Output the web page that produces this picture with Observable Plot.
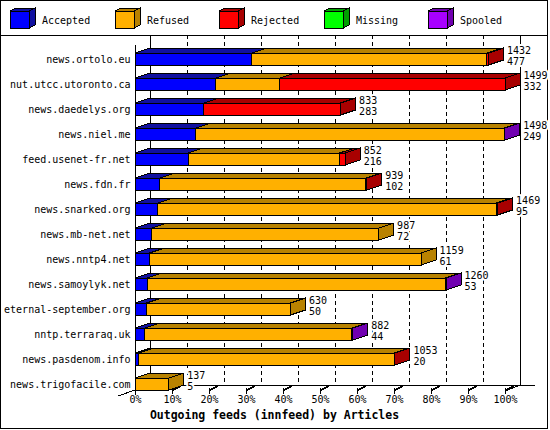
<!DOCTYPE html>
<html><head><meta charset="utf-8">
<script src="https://cdn.jsdelivr.net/npm/d3@7"></script>
<script src="https://cdn.jsdelivr.net/npm/@observablehq/plot@0.6"></script>
<style>body{margin:0;background:#fff}</style>
</head><body><div id="chart"></div>
<script>
const hosts = ["news.ortolo.eu","nut.utcc.utoronto.ca","news.daedelys.org","news.niel.me","feed.usenet-fr.net","news.fdn.fr","news.snarked.org","news.mb-net.net","news.nntp4.net","news.samoylyk.net","eternal-september.org","nntp.terraraq.uk","news.pasdenom.info","news.trigofacile.com"];
const totals = [1432,1499,833,1498,852,939,1469,987,1159,1260,630,882,1053,137];
const seconds = [477,332,283,249,216,102,95,72,61,53,50,44,20,5];
const accepted = [474,328,279,247,215,101,92,68,59,50,47,40,14,0];
const refused  = [952,259,0,1248,614,834,1373,919,1100,1207,583,839,1036,137];
const rejected = [6,912,554,0,23,4,4,0,0,0,0,0,3,0];
const missing  = [0,0,0,0,0,0,0,0,0,0,0,0,0,0];
const spooled  = [0,0,0,3,0,0,0,0,0,3,0,3,0,0];
const statuses = ["Accepted","Refused","Rejected","Missing","Spooled"];
const frontColors = ["#0000ff","#ffb000","#ff0000","#00ff00","#a800ff"];
const sideColors  = ["#1010a0","#b88200","#a80000","#00a000","#7000b0"];
const xTicks = [0,10,20,30,40,50,60,70,80,90,100];
const xTitle = "Outgoing feeds (innfeed) by Articles";

const DX = 15, DY = 5;
const FONT = "DejaVu Sans Mono";
const maxTotal = d3.max(totals);
const series = [accepted, refused, rejected, missing, spooled];

const rows = hosts.map((h, i) => ({host: h, total: totals[i], second: seconds[i], pct: totals[i] / maxTotal * 100}));
const segments = [];
hosts.forEach((h, i) => {
  let cum = 0;
  const segs = [];
  series.forEach((arr, k) => {
    const v = arr[i];
    if (v > 0) {
      segs.push({host: h, status: statuses[k], x1: cum / maxTotal * 100, x2: (cum + v) / maxTotal * 100, last: false});
      cum += v;
    }
  });
  if (segs.length) segs[segs.length - 1].last = true;
  segments.push(...segs);
});

function faces(index, scales) {
  const {x, y} = scales;
  const bw = y.bandwidth ? y.bandwidth() : 12;
  const g = d3.create("svg:g").attr("stroke", "black").attr("shape-rendering", "crispEdges");
  for (const s of segments) {
    const a = x(s.x1), b = x(s.x2), yt = y(s.host), yb = yt + bw;
    const col = sideColors[statuses.indexOf(s.status)];
    g.append("path").attr("fill", col)
      .attr("d", `M${a},${yt}L${a + DX},${yt - DY}L${b + DX},${yt - DY}L${b},${yt}Z`);
    if (s.last) {
      g.append("path").attr("fill", col)
        .attr("d", `M${b},${yt}L${b + DX},${yt - DY}L${b + DX},${yb - DY}L${b},${yb}Z`);
    }
  }
  return g.node();
}

function decor(index, scales) {
  const {x, y} = scales;
  const r = y.range();
  const yBottom = r[1];
  const floorY = yBottom - DY;
  const g = d3.create("svg:g").attr("fill", "none").attr("stroke", "black").attr("shape-rendering", "crispEdges");
  g.append("rect").attr("x", 0.5).attr("y", 0.5).attr("width", 547).attr("height", 428);
  g.append("line").attr("x1", 0).attr("x2", 547).attr("y1", 35.5).attr("y2", 35.5);
  const x0 = x(0), x100 = x(100);
  g.append("line").attr("x1", x0).attr("x2", x0).attr("y1", 45).attr("y2", yBottom + 5);
  g.append("line").attr("x1", x0).attr("x2", x100 + DX + 15).attr("y1", floorY).attr("y2", floorY);
  g.append("line").attr("x1", x100).attr("x2", x100 + DX).attr("y1", yBottom + 1).attr("y2", floorY);
  g.append("line").attr("x1", x0 - 17).attr("x2", x0).attr("y1", yBottom + 6).attr("y2", yBottom);
  for (const t of xTicks.slice(1)) {
    const xp = x(t);
    g.append("line").attr("x1", xp).attr("x2", xp).attr("y1", yBottom - 2).attr("y2", yBottom + 4);
    g.append("line").attr("x1", xp + 1).attr("x2", xp + 9).attr("y1", yBottom).attr("y2", floorY + 1).attr("stroke-width", 1.5);
  }
  return g.node();
}

function legend() {
  const g = d3.create("svg:g").attr("shape-rendering", "crispEdges");
  statuses.forEach((s, i) => {
    const bx = Math.round(10 + i * 104.5), by = 11, w = 19, h = 17, d = 6, e = 3;
    const c = g.append("g").attr("stroke", "black");
    c.append("rect").attr("x", bx).attr("y", by).attr("width", w).attr("height", h).attr("fill", frontColors[i]);
    c.append("path").attr("fill", sideColors[i]).attr("d", `M${bx},${by}L${bx + d},${by - e}L${bx + w + d},${by - e}L${bx + w},${by}Z`);
    c.append("path").attr("fill", sideColors[i]).attr("d", `M${bx + w},${by}L${bx + w + d},${by - e}L${bx + w + d},${by + h - e}L${bx + w},${by + h}Z`);
    g.append("text").attr("x", bx + 32).attr("y", 20).attr("dy", "0.35em").attr("text-anchor", "start")
      .attr("font-family", FONT).attr("font-size", 10).attr("fill", "black").text(s);
  });
  return g.node();
}

const chart = Plot.plot({
  width: 550,
  height: 430,
  marginLeft: 135,
  marginRight: 45,
  marginTop: 53,
  marginBottom: 40,
  style: {fontFamily: FONT, fontSize: "10px", background: "white", overflow: "visible"},
  x: {domain: [0, 100], axis: null},
  y: {type: "band", domain: hosts, paddingInner: 0.52, paddingOuter: 0, axis: null},
  color: {domain: statuses, range: frontColors},
  marks: [
    decor,
    legend,
    Plot.ruleX(xTicks.filter(t => t > 0 && t < 100), {x: d => d, dx: DX, insetTop: -18, insetBottom: 5, stroke: "black", strokeDasharray: "4,3"}),
    Plot.ruleX([0, 100], {x: d => d, dx: DX, insetTop: -18, insetBottom: 5, stroke: "black", shapeRendering: "crispEdges"}),
    Plot.rect(segments, {x1: "x1", x2: "x2", y: "host", fill: "status", stroke: "black", shapeRendering: "crispEdges"}),
    faces,
    Plot.text(rows, {x: "pct", y: "host", text: d => String(d.total), dx: 18, dy: -9, textAnchor: "start", fill: "black", stroke: "white", strokeWidth: 4, paintOrder: "stroke", fontSize: 10}),
    Plot.text(rows, {x: "pct", y: "host", text: d => String(d.second), dx: 18, dy: 2, textAnchor: "start", fill: "black", stroke: "white", strokeWidth: 4, paintOrder: "stroke", fontSize: 10}),
    Plot.text(hosts, {x: () => 0, y: d => d, dx: -5, textAnchor: "end", fill: "black", fontSize: 10}),
    Plot.text(xTicks, {x: d => d, text: d => d + "%", frameAnchor: "bottom", dy: 12, fill: "black", fontSize: 10}),
    Plot.text([xTitle], {text: d => d, frameAnchor: "bottom", dx: -46, dy: 28, fill: "black", fontWeight: "bold", fontSize: 11.5})
  ]
});
document.getElementById("chart").appendChild(chart);
</script>
</body></html>
